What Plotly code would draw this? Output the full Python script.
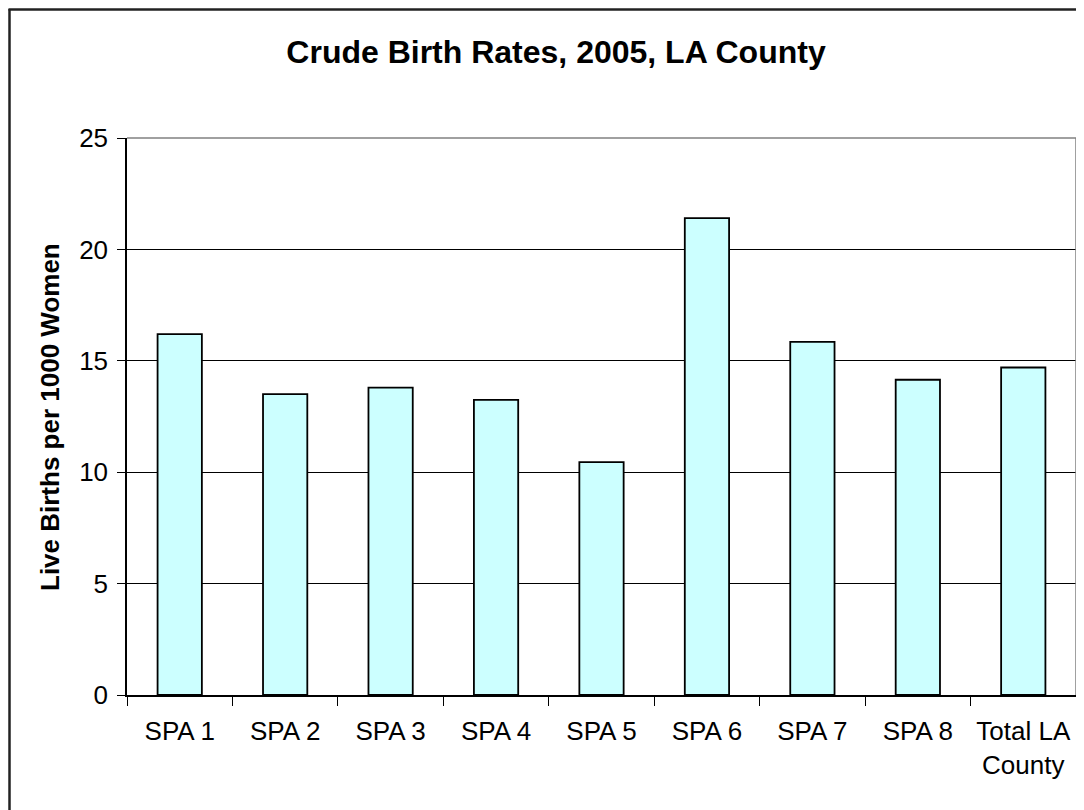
import plotly.graph_objects as go

categories = ["SPA 1", "SPA 2", "SPA 3", "SPA 4", "SPA 5", "SPA 6", "SPA 7", "SPA 8", "Total LA<br>County"]
birth_rates = [16.2, 13.5, 13.8, 13.25, 10.45, 21.4, 15.85, 14.15, 14.7]
y_ticks = [0, 5, 10, 15, 20, 25]

OFF = 8  # page body margin
W, H = 1084 - OFF, 810 - OFF
L, T = 127 - OFF, 138 - OFF
R = W - (1076 - OFF)
B = H - (695 - OFF)
pw, ph = W - L - R, H - T - B

def px_x(x):
    return (x - OFF - L) / pw

def px_y(y):
    return (H - B - (y - OFF)) / ph

font = "Liberation Sans, Arial, sans-serif"

fig = go.Figure(go.Bar(
    x=categories, y=birth_rates,
    marker=dict(color="#CCFFFF", line=dict(color="#000000", width=1.8)),
))

frame_color = "#222222"

fig.update_layout(
    width=W, height=H,
    margin=dict(l=L, r=R, t=T, b=B, pad=0),
    paper_bgcolor="white", plot_bgcolor="white",
    bargap=0.58,
    showlegend=False,
    font=dict(family=font, color="black", size=26),
    title=dict(text="<b>Crude Birth Rates, 2005, LA County</b>",
               x=(556 - OFF) / W, xanchor="center", y=1 - (52 - OFF) / H, yanchor="middle",
               font=dict(size=32, family=font, color="black")),
    xaxis=dict(showgrid=False, showline=True, linecolor="#000000", linewidth=1.5,
               ticks="outside", tickson="boundaries", ticklen=9, tickcolor="#000000",
               tickfont=dict(size=26), ticklabelstandoff=12),
    yaxis=dict(range=[0, 25], tickvals=y_ticks, showgrid=True, gridcolor="#000000", gridwidth=1,
               showline=True, linecolor="#000000", linewidth=1.5, ticks="outside", ticklen=8,
               tickcolor="#000000", tickfont=dict(size=26), zeroline=False,
               ticklabelstandoff=4),
    annotations=[dict(text="<b>Live Births per 1000 Women</b>", textangle=-90,
                      xref="paper", yref="paper", x=px_x(50), y=px_y(417),
                      xanchor="center", yanchor="middle", showarrow=False,
                      font=dict(size=26, family=font, color="black"))],
    shapes=[
        dict(type="line", xref="paper", yref="paper", x0=0, x1=1, y0=1, y1=1,
             line=dict(color="#808080", width=1.5)),
        dict(type="line", xref="paper", yref="paper", x0=1, x1=1, y0=0, y1=1,
             line=dict(color="#808080", width=1.5)),
        dict(type="line", xref="paper", yref="paper", x0=px_x(9.5), x1=px_x(9.5),
             y0=px_y(812), y1=px_y(9), line=dict(color=frame_color, width=2.5)),
        dict(type="line", xref="paper", yref="paper", x0=px_x(8.5), x1=px_x(1086),
             y0=px_y(9.5), y1=px_y(9.5), line=dict(color=frame_color, width=2.5)),
    ],
)

fig.write_html("out.html")
